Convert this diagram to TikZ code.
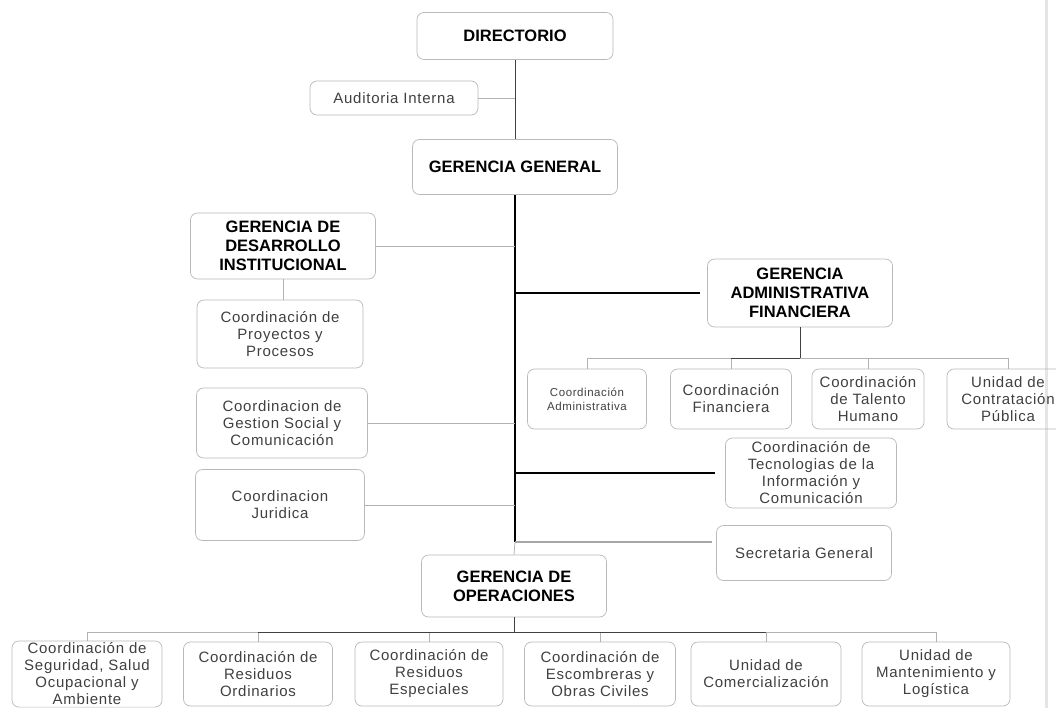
\documentclass[tikz,border=0pt]{standalone}
\usepackage{fontspec}
\setmainfont{Liberation Sans}
\newfontfamily\spacedfam[LetterSpace=5]{Liberation Sans}
\newcommand\fnorm{\spacedfam\fontsize{15}{17}\selectfont}
\newcommand\fsmall{\spacedfam\fontsize{11.5}{14}\selectfont}
\newcommand\fbold{\fontsize{16.5}{19}\selectfont\bfseries}
\usetikzlibrary{calc}

\begin{document}
\begin{tikzpicture}[x=1pt,y=-1pt,
box/.style={draw=gray!55,line width=0.7pt,rounded corners=7pt,align=center,inner sep=2pt,font=\fnorm,text=black!75},
boss/.style={box,font=\fbold,text=black},
thinline/.style={draw=gray!60,line width=0.8pt},
darkline/.style={draw=black!75,line width=1pt},
thickline/.style={draw=black,line width=2pt}]
\useasboundingbox (0,0) rectangle (1056,708);
\draw[gray!20,line width=3pt] (1046,0) -- (1046,708);

\node[boss,minimum width=196pt,minimum height=47pt] (dir) at (515,36) {DIRECTORIO};
\node[box,minimum width=168pt,minimum height=34pt] (aud) at (394,98) {Auditoria Interna};
\node[boss,minimum width=205pt,minimum height=55pt] (gg) at (515,167) {GERENCIA GENERAL};
\node[boss,minimum width=185pt,minimum height=66pt] (gdi) at (283,246) {GERENCIA DE\\DESARROLLO\\INSTITUCIONAL};
\node[box,minimum width=166pt,minimum height=68pt] (proy) at (280,334) {Coordinación de\\Proyectos y\\Procesos};
\node[box,minimum width=171pt,minimum height=70pt] (gest) at (282,423) {Coordinacion de\\Gestion Social y\\Comunicación};
\node[box,minimum width=169pt,minimum height=71pt] (jur) at (280,505) {Coordinacion\\Juridica};
\node[boss,minimum width=185pt,minimum height=68pt] (gaf) at (800,293) {GERENCIA\\ADMINISTRATIVA\\FINANCIERA};
\node[box,font=\fsmall,minimum width=119pt,minimum height=60pt] (cadm) at (587,399) {Coordinación\\Administrativa};
\node[box,minimum width=121pt,minimum height=60pt] (cfin) at (731,399) {Coordinación\\Financiera};
\node[box,minimum width=112pt,minimum height=60pt] (ctal) at (868,399) {Coordinación\\de Talento\\Humano};
\node[box,minimum width=122pt,minimum height=60pt] (ucp) at (1008,399) {Unidad de\\Contratación\\Pública};
\node[box,minimum width=171pt,minimum height=70pt] (tic) at (811,473) {Coordinación de\\Tecnologias de la\\Información y\\Comunicación};
\node[box,minimum width=175pt,minimum height=55pt] (sec) at (804,553) {Secretaria General};
\node[boss,minimum width=185pt,minimum height=62pt] (gop) at (514,586) {GERENCIA DE\\OPERACIONES};

\foreach \n/\x/\w/\t in {b1/87/150/{Coordinación de\\Seguridad, Salud\\Ocupacional y\\Ambiente},
  b2/258/149/{Coordinación de\\Residuos\\Ordinarios},
  b3/429/148/{Coordinación de\\Residuos\\Especiales},
  b4/600/151/{Coordinación de\\Escombreras y\\Obras Civiles},
  b5/766/150/{Unidad de\\Comercialización},
  b6/936/148/{Unidad de\\Mantenimiento y\\Logística}}
  \node[box,minimum width=\w pt,minimum height=64pt] (\n) at (\x,674) {\t};

\draw[darkline] (dir.south) -- (gg.north);
\draw[thinline] (aud.east) -- (aud.east -| dir.south);
\coordinate (trunk) at ([yshift=11pt]sec.west -| gg.south);
\draw[thickline] (gg.south) -- (trunk);
\draw[thinline] (trunk) -- (gop.north);
\foreach \n in {gdi,gest,jur}
  \draw[thinline] (\n.east) -- (\n.east -| gg.south);
\draw[thinline] (gdi.south) -- (gdi.south |- proy.north);
\draw[thickline,shorten >=7pt] (gaf.west -| gg.south) -- (gaf.west);
\draw[thickline,shorten >=10pt] (tic.west -| gg.south) -- (tic.west);
\draw[draw=gray!70,line width=1.6pt,shorten >=4pt] (trunk) -- ([yshift=11pt]sec.west);

\draw[darkline] (gaf.south) -- ++(0,31) coordinate (gafbus);
\foreach \n in {cadm,cfin,ctal,ucp}
  \draw[thinline] (gafbus) -| (\n.north);
\draw[darkline] (gafbus) -- (gafbus -| cfin.north);

\draw[darkline] (gop.south) -- ++(0,15) coordinate (gopbus);
\foreach \n in {b1,b2,b3,b4,b5,b6}
  \draw[thinline] (gopbus) -| (\n.north);
\draw[darkline,line width=1.4pt] (gopbus -| b2.north) -- (gopbus -| b5.north);
\end{tikzpicture}
\end{document}
